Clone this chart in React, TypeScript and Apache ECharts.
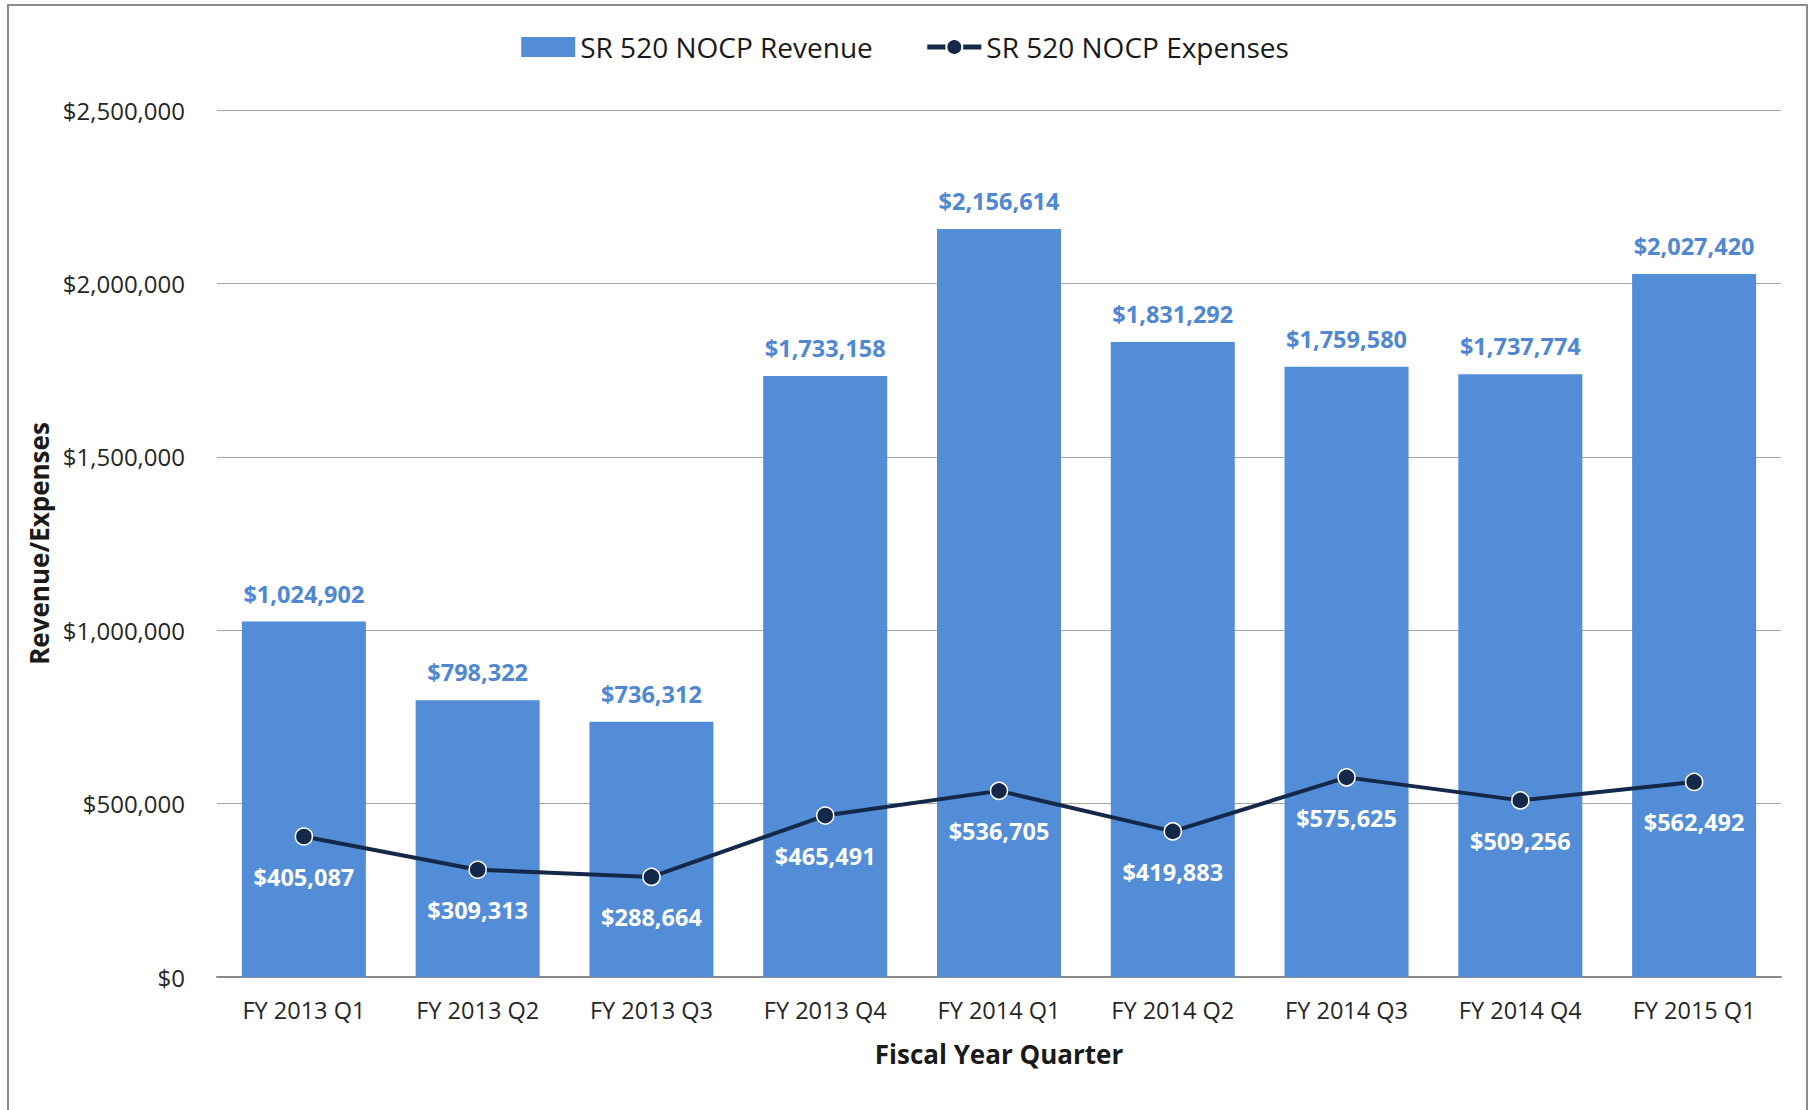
import React, { useEffect, useRef } from "react";
import * as echarts from "echarts";

const categories = [
  "FY 2013 Q1", "FY 2013 Q2", "FY 2013 Q3", "FY 2013 Q4", "FY 2014 Q1",
  "FY 2014 Q2", "FY 2014 Q3", "FY 2014 Q4", "FY 2015 Q1",
];
const revenue = [1024902, 798322, 736312, 1733158, 2156614, 1831292, 1759580, 1737774, 2027420];
const expenses = [405087, 309313, 288664, 465491, 536705, 419883, 575625, 509256, 562492];
const yTicks = [0, 500000, 1000000, 1500000, 2000000, 2500000];

const FONT = "'Open Sans', 'Noto Sans', sans-serif";
const money = (v: number) => "$" + Math.round(v).toLocaleString("en-US");

export default function App() {
  const ref = useRef<HTMLDivElement>(null);
  useEffect(() => {
    document.body.style.margin = "0";
    const chart = echarts.init(ref.current!, null, { renderer: "svg" });
    chart.setOption({
      animation: false,
      backgroundColor: "#ffffff",
      textStyle: { fontFamily: FONT },
      graphic: [
        {
          type: "rect",
          shape: { x: 8, y: 5, width: 1799, height: 1120 },
          style: { fill: "none", stroke: "#8c8c8c", lineWidth: 2 },
          silent: true,
        },
      ],
      legend: {
        top: 28,
        left: "center",
        itemGap: 52,
        itemWidth: 54,
        itemHeight: 20,
        textStyle: { fontSize: 28, color: "#1a1a1a", fontFamily: FONT },
        data: [
          { name: "SR 520 NOCP Revenue", icon: "rect" },
          { name: "SR 520 NOCP Expenses", lineStyle: { width: 5 } },
        ],
      },
      grid: { left: 217, right: 29, top: 110, bottom: 133, containLabel: false },
      xAxis: {
        type: "category",
        data: categories,
        name: "Fiscal Year Quarter",
        nameLocation: "middle",
        nameGap: 64,
        nameTextStyle: { fontSize: 26, fontWeight: "bold", color: "#1a1a1a", fontFamily: FONT },
        axisLine: { lineStyle: { color: "#8a8a8a", width: 2 } },
        axisTick: { show: false },
        axisLabel: { fontSize: 23.5, color: "#262626", margin: 21, fontFamily: FONT },
      },
      yAxis: {
        type: "value",
        min: 0,
        max: 2500000,
        interval: 500000,
        name: "Revenue/Expenses",
        nameLocation: "middle",
        nameGap: 165,
        nameTextStyle: { fontSize: 26, fontWeight: "bold", color: "#1a1a1a", fontFamily: FONT },
        axisLine: { show: false },
        axisTick: { show: false },
        splitLine: { lineStyle: { color: "#a6a6a6", width: 1 } },
        axisLabel: {
          fontSize: 24,
          color: "#262626",
          margin: 32,
          fontFamily: FONT,
          formatter: (v: number) => (yTicks.includes(v) ? money(v) : ""),
        },
      },
      series: [
        {
          name: "SR 520 NOCP Revenue",
          type: "bar",
          data: revenue,
          barWidth: 124,
          itemStyle: { color: "#538dd8" },
          label: {
            show: true,
            position: "top",
            distance: 16,
            fontSize: 23.5,
            fontWeight: "bold",
            color: "#5087d2",
            fontFamily: FONT,
            formatter: (p: any) => money(p.value),
          },
          z: 2,
        },
        {
          name: "SR 520 NOCP Expenses",
          type: "line",
          data: expenses,
          symbol: "circle",
          symbolSize: 17,
          lineStyle: { color: "#14284a", width: 4 },
          itemStyle: { color: "#14284a", borderColor: "#ffffff", borderWidth: 1.5 },
          label: {
            show: true,
            position: "bottom",
            distance: 19,
            fontSize: 23.5,
            fontWeight: "bold",
            color: "#ffffff",
            fontFamily: FONT,
            formatter: (p: any) => money(p.value),
          },
          z: 3,
        },
      ],
    });
    return () => chart.dispose();
  }, []);
  return <div ref={ref} style={{ width: 1810, height: 1110 }} />;
}
